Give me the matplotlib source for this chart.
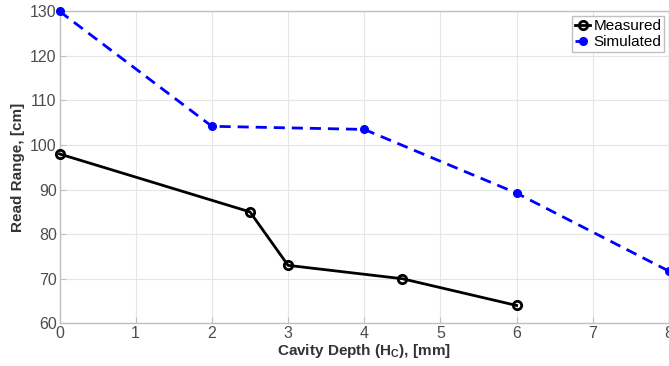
import matplotlib.pyplot as plt

plt.rcParams['font.family'] = ['Liberation Sans', 'DejaVu Sans']

meas_x = [0, 2.5, 3, 4.5, 6]
meas_y = [98, 85, 73, 70, 64]
sim_x = [0, 2, 4, 6, 8]
sim_y = [130, 104.2, 103.5, 89.2, 71.7]

fig = plt.figure(figsize=(6.69, 3.66), dpi=100)
ax = fig.add_axes([59.5/669, 1-323.3/366, 1-59.5/669, (323.3-11.3)/366])

ax.plot(meas_x, meas_y, '-o', color='black', lw=2, ms=6, mfc='none', mew=2,
        label='Measured', clip_on=False, zorder=3)
ax.plot(sim_x, sim_y, '--o', color='blue', lw=2, ms=5.5, mfc='blue',
        dashes=(4, 2.5), label='Simulated', clip_on=False, zorder=3)

ax.set_xlim(0, 8)
ax.set_ylim(60, 130)
ax.set_xticks(range(0, 9))
ax.set_yticks(range(60, 131, 10))
ax.grid(True, color='#e6e6e6', lw=0.8)
ax.set_axisbelow(True)
ax.tick_params(direction='in', length=4, colors='#c0c0c0', labelcolor='#4d4d4d',
               labelsize=11.5, pad=2)
for s in ax.spines.values():
    s.set_color('#c0c0c0')
    s.set_linewidth(1)

ax.set_xlabel('Cavity Depth (H$_\\mathregular{C}$), [mm]', fontsize=11,
              fontweight='bold', color='#333333', labelpad=1)
ax.set_ylabel('Read Range, [cm]', fontsize=11, fontweight='bold',
              color='#333333', labelpad=4)

leg = ax.legend(loc='upper right', fontsize=11, handlelength=1.0,
                handletextpad=0.2, borderpad=0.2, labelspacing=0.15,
                fancybox=False, framealpha=1, borderaxespad=0.3)
leg.get_frame().set_edgecolor('#c0c0c0')
leg.get_frame().set_linewidth(1)

plt.savefig('out.png', dpi=100)
